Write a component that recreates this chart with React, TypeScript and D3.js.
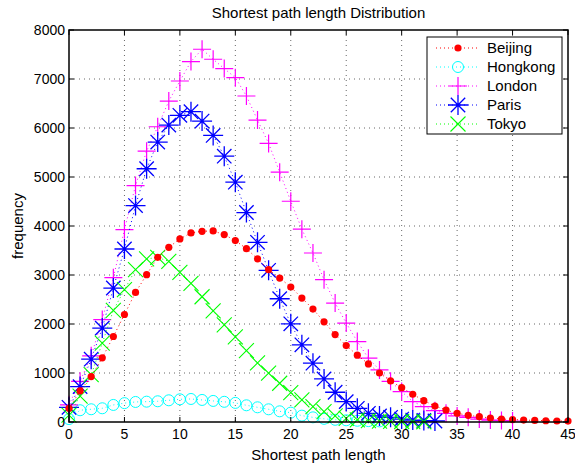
import React from "react";
import * as d3 from "d3";

// path lengths 0..n
const beijing = [280, 634, 927, 1309, 1745, 2194, 2645, 3006, 3360, 3565, 3736, 3858, 3892, 3900, 3824, 3702, 3538, 3330, 3108, 2938, 2755, 2530, 2305, 2045, 1785, 1560, 1364, 1186, 1000, 838, 701, 566, 436, 327, 245, 178, 137, 108, 82, 61, 50, 40, 33, 26, 20, 18];
const hongkong = [60, 240, 260, 280, 348, 385, 409, 415, 423, 443, 463, 470, 450, 430, 412, 390, 341, 300, 259, 218, 191, 130, 95, 65, 45, 35, 25, 18, 12];
const london = [350, 830, 1350, 2090, 2945, 3926, 4826, 5528, 6026, 6550, 6959, 7356, 7607, 7403, 7212, 7028, 6653, 6162, 5685, 5098, 4505, 3935, 3449, 2904, 2427, 2018, 1642, 1303, 1063, 830, 620, 416, 314, 232, 177, 123, 95, 60, 40, 30, 20];
const paris = [300, 722, 1282, 1916, 2734, 3531, 4417, 5168, 5712, 6059, 6258, 6333, 6141, 5849, 5425, 4894, 4275, 3667, 3095, 2515, 2004, 1575, 1200, 879, 607, 416, 279, 177, 123, 95, 60, 40, 30, 20];
const tokyo = [140, 530, 965, 1609, 2280, 2700, 3108, 3327, 3360, 3278, 3053, 2830, 2556, 2270, 1984, 1735, 1455, 1205, 996, 791, 600, 450, 313, 211, 123, 75, 45, 28, 20, 15, 10, 8, 5];

const xTicks = [0, 5, 10, 15, 20, 25, 30, 35, 40, 45];
const yTicks = [0, 1000, 2000, 3000, 4000, 5000, 6000, 7000, 8000];

const series = [
  { name: "Beijing", values: beijing, color: "#ff0000", marker: "dot" },
  { name: "Hongkong", values: hongkong, color: "#00ffff", marker: "circle" },
  { name: "London", values: london, color: "#ff00ff", marker: "plus" },
  { name: "Paris", values: paris, color: "#0000ff", marker: "star" },
  { name: "Tokyo", values: tokyo, color: "#00ff00", marker: "cross" },
];
// draw order (last on top)
const drawOrder = ["Hongkong", "London", "Paris", "Tokyo", "Beijing"];

const width = 575;
const height = 466;
const left = 69;
const right = 568;
const top = 30;
const bottom = 422;
const font = "'Liberation Sans', Arial, Helvetica, sans-serif";

const Marker = ({ type, x, y, color }) => {
  if (type === "dot") return <circle cx={x} cy={y} r={3.6} fill={color} />;
  if (type === "circle")
    return <circle cx={x} cy={y} r={5.5} fill="none" stroke={color} strokeWidth={1} />;
  if (type === "plus") {
    const s = 9;
    return (
      <path d={`M${x - s},${y}H${x + s}M${x},${y - s}V${y + s}`} stroke={color} strokeWidth={1.2} />
    );
  }
  if (type === "star") {
    const s = 10;
    const d = s * 0.72;
    return (
      <path
        d={`M${x - s},${y}H${x + s}M${x},${y - s}V${y + s}M${x - d},${y - d}L${x + d},${y + d}M${x - d},${y + d}L${x + d},${y - d}`}
        stroke={color}
        strokeWidth={1.3}
      />
    );
  }
  const s = 7.5;
  return (
    <path
      d={`M${x - s},${y - s}L${x + s},${y + s}M${x - s},${y + s}L${x + s},${y - s}`}
      stroke={color}
      strokeWidth={1.1}
    />
  );
};

const App = () => {
  const xScale = d3.scaleLinear().domain([0, 45]).range([left, right]);
  const yScale = d3.scaleLinear().domain([0, 8000]).range([bottom, top]);

  const line = d3
    .line<number>()
    .x((d, i) => xScale(i))
    .y((d) => yScale(d));

  const ordered = drawOrder.map((n) => series.find((s) => s.name === n));

  const legendX = 427;
  const legendY = 37;
  const rowH = 19;

  return (
    <svg
      width={width}
      height={height}
      style={{ position: "absolute", left: 0, top: 0, background: "#fff" }}
      fontFamily={font}
    >
      <rect x={0} y={0} width={width} height={height} fill="#fff" />
      {/* grid */}
      <g stroke="#000" strokeOpacity={0.6} strokeWidth={1} strokeDasharray="1,4">
        {xTicks.slice(1, -1).map((t) => (
          <line key={"gx" + t} x1={xScale(t)} x2={xScale(t)} y1={top} y2={bottom} />
        ))}
        {yTicks.slice(1, -1).map((t) => (
          <line key={"gy" + t} x1={left} x2={right} y1={yScale(t)} y2={yScale(t)} />
        ))}
      </g>

      {/* series */}
      {ordered.map((s) => (
        <g key={s.name}>
          <path
            d={line(s.values)}
            fill="none"
            stroke={s.color}
            strokeWidth={1}
            strokeDasharray="1,3"
          />
          {s.values.map((v, i) => (
            <Marker key={i} type={s.marker} x={xScale(i)} y={yScale(v)} color={s.color} />
          ))}
        </g>
      ))}

      {/* axes box and ticks */}
      <rect x={left} y={top} width={right - left} height={bottom - top} fill="none" stroke="#000" strokeWidth={1.5} />
      <g stroke="#000" strokeWidth={1}>
        {xTicks.map((t) => (
          <g key={"tx" + t}>
            <line x1={xScale(t)} x2={xScale(t)} y1={bottom} y2={bottom - 5} />
            <line x1={xScale(t)} x2={xScale(t)} y1={top} y2={top + 5} />
          </g>
        ))}
        {yTicks.map((t) => (
          <g key={"ty" + t}>
            <line x1={left} x2={left + 5} y1={yScale(t)} y2={yScale(t)} />
            <line x1={right} x2={right - 5} y1={yScale(t)} y2={yScale(t)} />
          </g>
        ))}
      </g>
      <g fontSize={14} fill="#000">
        {xTicks.map((t) => (
          <text key={"lx" + t} x={xScale(t)} y={bottom + 17} textAnchor="middle">
            {t}
          </text>
        ))}
        {yTicks.map((t) => (
          <text key={"ly" + t} x={left - 4} y={yScale(t) + 5} textAnchor="end">
            {t}
          </text>
        ))}
      </g>

      {/* titles */}
      <text x={(left + right) / 2} y={18} textAnchor="middle" fontSize={15}>
        Shortest path length Distribution
      </text>
      <text x={(left + right) / 2} y={460} textAnchor="middle" fontSize={15}>
        Shortest path length
      </text>
      <text
        transform={`translate(23,${(top + bottom) / 2}) rotate(-90)`}
        textAnchor="middle"
        fontSize={15}
      >
        frequency
      </text>

      {/* legend */}
      <rect x={legendX} y={legendY} width={135} height={97} fill="#fff" stroke="#000" strokeWidth={1} />
      {series.map((s, i) => {
        const cy = legendY + 11 + i * rowH;
        return (
          <g key={"lg" + s.name}>
            <line
              x1={legendX + 9}
              x2={legendX + 52}
              y1={cy}
              y2={cy}
              stroke={s.color}
              strokeDasharray="1,3"
            />
            <Marker type={s.marker} x={legendX + 31} y={cy} color={s.color} />
            <text x={legendX + 60} y={cy + 5} fontSize={15}>
              {s.name}
            </text>
          </g>
        );
      })}
    </svg>
  );
};

export default App;
